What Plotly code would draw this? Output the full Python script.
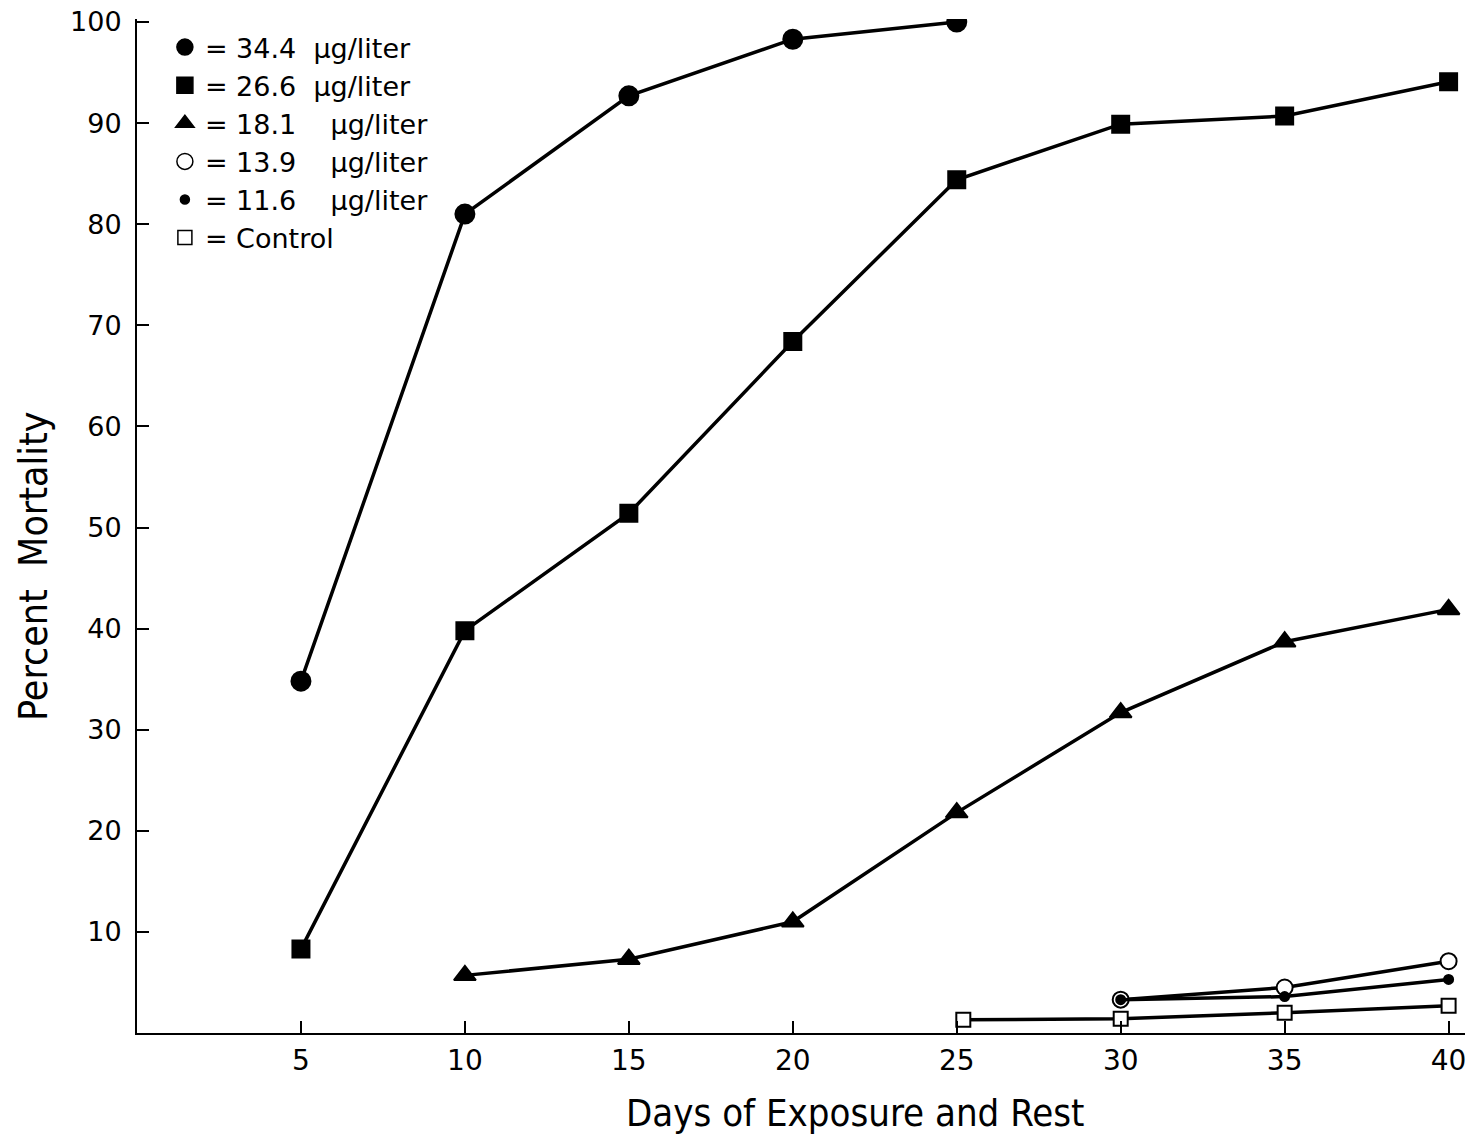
import plotly.graph_objects as go

# ==========================================
# DATA
# ==========================================

days_344 = [5, 10, 15, 20, 25]
mort_344 = [34.8, 81.0, 92.7, 98.3, 100.0]

days_266 = [5, 10, 15, 20, 25, 30, 35, 40]
mort_266 = [8.3, 39.8, 51.4, 68.4, 84.4, 89.9, 90.7, 94.1]

days_181 = [10, 15, 20, 25, 30, 35, 40]
mort_181 = [5.7, 7.3, 11.0, 21.8, 31.7, 38.7, 41.9]

days_139 = [30, 35, 40]
mort_139 = [3.3, 4.5, 7.1]

days_116 = [30, 35, 40]
mort_116 = [3.3, 3.6, 5.3]

days_ctrl = [25.2, 30, 35, 40]
mort_ctrl = [1.3, 1.4, 2.0, 2.7]

x_ticks = [5, 10, 15, 20, 25, 30, 35, 40]
y_ticks = [10, 20, 30, 40, 50, 60, 70, 80, 90, 100]

series = [
    ("= 34.4  \u00b5g/liter", days_344, mort_344, "circle", 19, "black"),
    ("= 26.6  \u00b5g/liter", days_266, mort_266, "square", 17, "black"),
    ("= 18.1    \u00b5g/liter", days_181, mort_181, "triangle-up", 19, "black"),
    ("= 13.9    \u00b5g/liter", days_139, mort_139, "circle", 16, "white"),
    ("= 11.6    \u00b5g/liter", days_116, mort_116, "circle", 9, "black"),
    ("= Control", days_ctrl, mort_ctrl, "square", 14, "white"),
]

# ==========================================
# FIGURE
# ==========================================

fig = go.Figure()

for name, xs, ys, symbol, size, fill in series:
    fig.add_trace(go.Scatter(
        x=xs, y=ys, mode="lines+markers", showlegend=False,
        line=dict(color="black", width=3.5),
        marker=dict(symbol=symbol, size=size, color=fill,
                    line=dict(color="black", width=2)),
    ))

# legend entries: markers only
for name, xs, ys, symbol, size, fill in series:
    fig.add_trace(go.Scatter(
        x=[None], y=[None], mode="markers", name=name,
        marker=dict(symbol=symbol, size=size, color=fill,
                    line=dict(color="black", width=1.5)),
    ))

# axis titles as annotations so they sit where the original has them
fig.add_annotation(
    text="Days of Exposure and Rest", xref="paper", yref="paper",
    x=0.541, y=-0.079, xanchor="center", yanchor="middle", showarrow=False,
    font=dict(size=38, family="DejaVu Sans Condensed"),
)
fig.add_annotation(
    text="Percent  Mortality", xref="paper", yref="paper",
    x=-0.078, y=0.461, xanchor="center", yanchor="middle",
    showarrow=False, textangle=-90,
    font=dict(size=39, family="DejaVu Sans Condensed"),
)

# page body adds an 8px offset, margins compensate for it
fig.update_layout(
    width=1478, height=1135,
    plot_bgcolor="white", paper_bgcolor="white",
    margin=dict(l=129, r=21, t=11, b=110),
    font=dict(family="DejaVu Sans", color="black"),
    legend=dict(
        x=0.021, y=0.996, xanchor="left", yanchor="top",
        font=dict(size=27, family="DejaVu Sans"),
        bgcolor="rgba(0,0,0,0)", itemwidth=30,
    ),
    xaxis=dict(
        range=[0, 40.5], tickvals=x_ticks, showgrid=False, zeroline=False,
        showline=True, linecolor="black", linewidth=2, automargin=False,
        ticks="inside", ticklen=12, tickwidth=2, tickcolor="black",
        tickfont=dict(size=28), ticklabelstandoff=1,
        ticklabeloverflow="allow",
    ),
    yaxis=dict(
        range=[0, 100.3], tickvals=y_ticks, showgrid=False, zeroline=False,
        showline=True, linecolor="black", linewidth=2, automargin=False,
        ticks="inside", ticklen=12, tickwidth=2, tickcolor="black",
        tickfont=dict(size=27), ticklabelstandoff=8,
        ticklabeloverflow="allow",
    ),
)

fig.write_html("out.html")
